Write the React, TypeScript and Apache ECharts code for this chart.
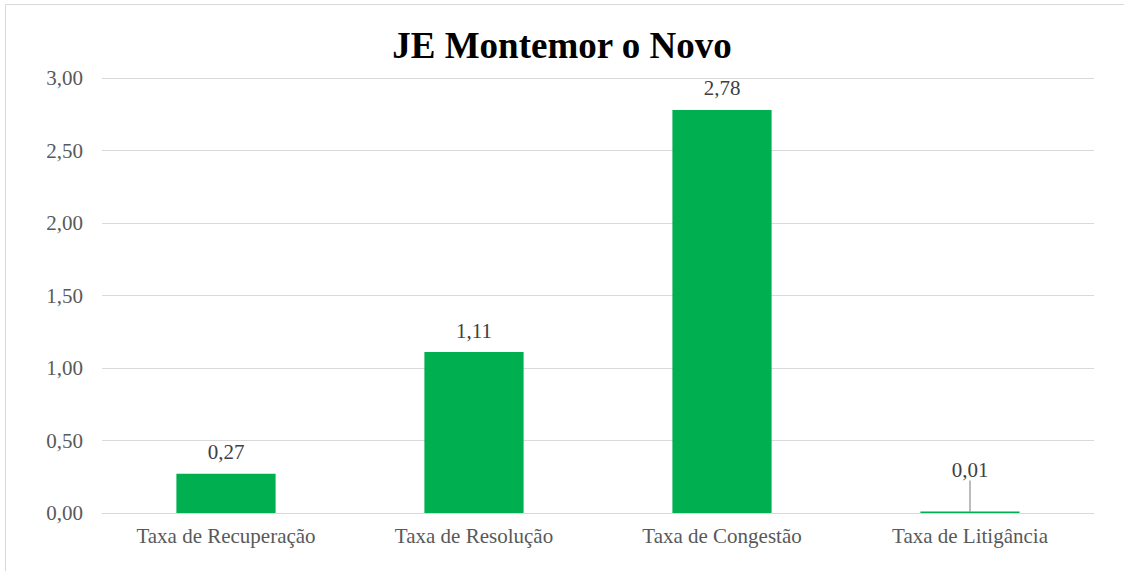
import React, { useEffect, useRef } from "react";
import * as echarts from "echarts";

const categories = ["Taxa de Recuperação", "Taxa de Resolução", "Taxa de Congestão", "Taxa de Litigância"];
const values = [0.27, 1.11, 2.78, 0.01];
const titleText = "JE Montemor o Novo";

const fmt = (v: number) => v.toFixed(2).replace(".", ",");

export default function App() {
  const ref = useRef<HTMLDivElement>(null);
  useEffect(() => {
    document.body.style.margin = "0";
    const chart = echarts.init(ref.current!, null, { renderer: "svg" });
    const font = "'Liberation Serif', 'Times New Roman', serif";
    const data = values.map((v, i) =>
      i === 3
        ? { value: v, labelLine: { show: true, lineStyle: { color: "#a6a6a6", width: 1.5 } } }
        : { value: v }
    );
    chart.setOption({
      animation: false,
      backgroundColor: "#ffffff",
      textStyle: { fontFamily: font },
      graphic: [
        {
          type: "rect",
          shape: { x: 5.5, y: 4.5, width: 1200, height: 700 },
          style: { fill: "none", stroke: "#d9d9d9", lineWidth: 1 },
          silent: true,
        },
      ],
      title: {
        text: titleText,
        left: "center",
        top: 22,
        textStyle: { fontFamily: font, fontSize: 37, fontWeight: "bold", color: "#000000" },
      },
      grid: { left: 102, right: 30, top: 78, bottom: 58 },
      xAxis: {
        type: "category",
        data: categories,
        axisLine: { lineStyle: { color: "#d9d9d9", width: 1 } },
        axisTick: { show: false },
        axisLabel: { color: "#595959", fontSize: 21, fontFamily: font, margin: 12 },
      },
      yAxis: {
        type: "value",
        min: 0,
        max: 3,
        interval: 0.5,
        axisLine: { show: false },
        axisTick: { show: false },
        splitLine: { lineStyle: { color: "#d9d9d9", width: 1 } },
        axisLabel: { color: "#595959", fontSize: 21, fontFamily: font, margin: 19, formatter: (v: number) => fmt(v) },
      },
      series: [
        {
          type: "bar",
          data,
          barWidth: "40%",
          itemStyle: { color: "#00B050" },
          label: {
            show: true,
            position: "top",
            distance: 11,
            color: "#404040",
            fontSize: 21,
            fontFamily: font,
            formatter: (p: any) => fmt(p.value),
          },
          labelLine: { show: false },
          labelLayout: (p: any) => (p.dataIndex === 3 ? { dy: -20 } : {}),
        },
      ],
    });
    return () => chart.dispose();
  }, []);
  return <div ref={ref} style={{ width: 1124, height: 571 }} />;
}
